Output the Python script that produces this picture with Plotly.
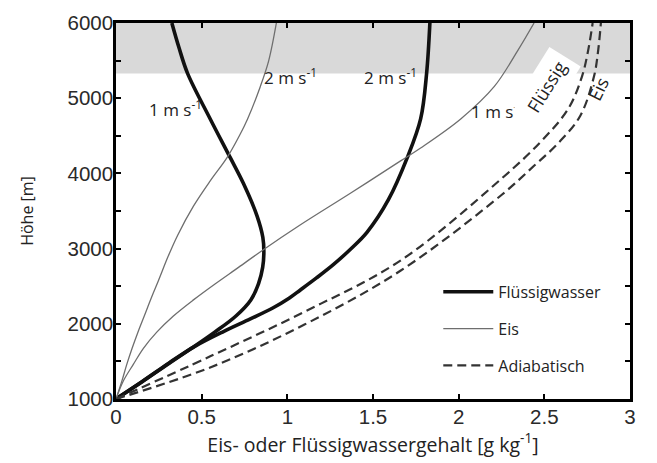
import plotly.graph_objects as go

# ---- data ----
h_fw1 = [1000, 1230, 1460, 1674, 1889, 2104, 2318, 2533, 2750, 2950, 3150, 3436, 3865, 4209, 4724, 5334, 5677, 6000]
x_fw1 = [0, 0.152, 0.3, 0.44, 0.576, 0.70, 0.787, 0.832, 0.856, 0.863, 0.857, 0.823, 0.744, 0.667, 0.55, 0.417, 0.367, 0.326]

h_fw2 = [1000, 1230, 1480, 1700, 1900, 2065, 2210, 2340, 2450, 2610, 2790, 2995, 3220, 3650, 4209, 4724, 5334, 6000]
x_fw2 = [0, 0.152, 0.31, 0.46, 0.63, 0.784, 0.915, 1.01, 1.076, 1.17, 1.27, 1.37, 1.466, 1.59, 1.70, 1.778, 1.813, 1.832]

h_ice2 = [1000, 1245, 1460, 1674, 1889, 2104, 2350, 2576, 2900, 3178, 3564, 3900, 4209, 4500, 4724, 5153, 5497, 6000]
x_ice2 = [0, 0.035, 0.063, 0.094, 0.128, 0.165, 0.207, 0.248, 0.305, 0.36, 0.452, 0.55, 0.648, 0.72, 0.768, 0.842, 0.891, 0.936]

h_ice1 = [1000, 1245, 1460, 1674, 1889, 2104, 2318, 2533, 2750, 2985, 3307, 3736, 4166, 4338, 4724, 5153, 5626, 6000]
x_ice1 = [0, 0.044, 0.101, 0.16, 0.238, 0.335, 0.452, 0.58, 0.715, 0.86, 1.07, 1.368, 1.661, 1.778, 2.012, 2.207, 2.343, 2.44]

h_adl = [1000, 1567, 2160, 2840, 3930, 4423, 4861, 5291, 5626, 6000]
x_adl = [0, 0.55, 1.1, 1.66, 2.25, 2.48, 2.64, 2.72, 2.755, 2.782]

h_adi = [1000, 1420, 1990, 2705, 3713, 4101, 4400, 4767, 5291, 5650, 6000]
x_adi = [0, 0.55, 1.1, 1.66, 2.25, 2.44, 2.58, 2.71, 2.79, 2.815, 2.83]

shade_bottom = 5330
x_ticks = [0, 0.5, 1, 1.5, 2, 2.5, 3]
x_ticktext = ["0", "0.5", "1", "1.5", "2", "2.5", "3"]
y_ticks = [1000, 1500, 2000, 2500, 3000, 3500, 4000, 4500, 5000, 5500, 6000]
y_ticktext = ["1000", "", "2000", "", "3000", "", "4000", "", "5000", "", "6000"]

legend_names = ["Flüssigwasser", "Eis", "Adiabatisch"]

TXT = "Open Sans"
fig = go.Figure()

thick = dict(color="#111111", width=3.6, shape="spline", smoothing=1.0)
thin = dict(color="#6e6e6e", width=1.3, shape="spline", smoothing=1.0)
dash = dict(color="#333333", width=2.2, dash="9px,5px", shape="spline", smoothing=1.0)

fig.add_trace(go.Scatter(x=x_fw1, y=h_fw1, mode="lines", line=thick, name=legend_names[0],
                         legendgroup="a", showlegend=True))
fig.add_trace(go.Scatter(x=x_fw2, y=h_fw2, mode="lines", line=thick, name=legend_names[0],
                         legendgroup="a", showlegend=False))
fig.add_trace(go.Scatter(x=x_ice2, y=h_ice2, mode="lines", line=thin, name=legend_names[1],
                         legendgroup="b", showlegend=True))
fig.add_trace(go.Scatter(x=x_ice1, y=h_ice1, mode="lines", line=thin, name=legend_names[1],
                         legendgroup="b", showlegend=False))
fig.add_trace(go.Scatter(x=x_adl, y=h_adl, mode="lines", line=dash, name=legend_names[2],
                         legendgroup="c", showlegend=True))
fig.add_trace(go.Scatter(x=x_adi, y=h_adi, mode="lines", line=dash, name=legend_names[2],
                         legendgroup="c", showlegend=False))

fig.add_shape(type="rect", xref="paper", yref="y", x0=0, x1=1, y0=shade_bottom, y1=6000,
              fillcolor="#d9d9d9", line_width=0, layer="below")

lab_font = dict(family=TXT, size=17, color="#222222")
annots = [
    dict(x=0.345, y=4860, text="1 m s<sup>-1</sup>"),
    dict(x=1.02, y=5285, text="2 m s<sup>-1</sup>"),
    dict(x=1.602, y=5285, text="2 m s<sup>-1</sup>"),
    dict(x=2.225, y=4835, text="1 m s<sup>-1</sup>"),
]
for a in annots:
    fig.add_annotation(x=a["x"], y=a["y"], text=a["text"], showarrow=False, font=lab_font)
fig.add_annotation(x=2.515, y=5160, text="Flüssig", showarrow=False, textangle=-58,
                   font=dict(family=TXT, size=18, color="#222222"), bgcolor="white", borderpad=6)
fig.add_annotation(x=2.815, y=5120, text="Eis", showarrow=False, textangle=-64,
                   font=dict(family=TXT, size=18, color="#222222"))

axis_common = dict(showline=True, linecolor="black", linewidth=2.5, mirror="ticks",
                   ticks="inside", ticklen=5, tickwidth=2, tickcolor="black",
                   showgrid=False, zeroline=False,
                   tickfont=dict(family="Liberation Sans, Arial", size=20.5, color="#2a2a2a"))

fig.update_layout(
    width=657, height=463,
    margin=dict(l=116, r=27, t=11, b=64),
    paper_bgcolor="white", plot_bgcolor="white",
    xaxis=dict(range=[0, 3], tickmode="array", tickvals=x_ticks, ticktext=x_ticktext,
               title=dict(text="Eis- oder Flüssigwassergehalt [g kg<sup>-1</sup>]",
                          font=dict(family=TXT, size=19.5, color="#222222"), standoff=5),
               ticklabelstandoff=-2,
               **axis_common),
    yaxis=dict(range=[1000, 6000], tickmode="array", tickvals=y_ticks, ticktext=y_ticktext,
               title=dict(text="Höhe [m]", font=dict(family=TXT, size=16, color="#222222"), standoff=30),
               ticklabelstandoff=-4,
               **axis_common),
    legend=dict(x=0.627, y=0.33, xanchor="left", yanchor="top", bgcolor="rgba(0,0,0,0)",
                font=dict(family=TXT, size=16, color="#222222"), tracegroupgap=13,
                itemwidth=50),
    showlegend=True,
)

fig.write_html("out.html")
